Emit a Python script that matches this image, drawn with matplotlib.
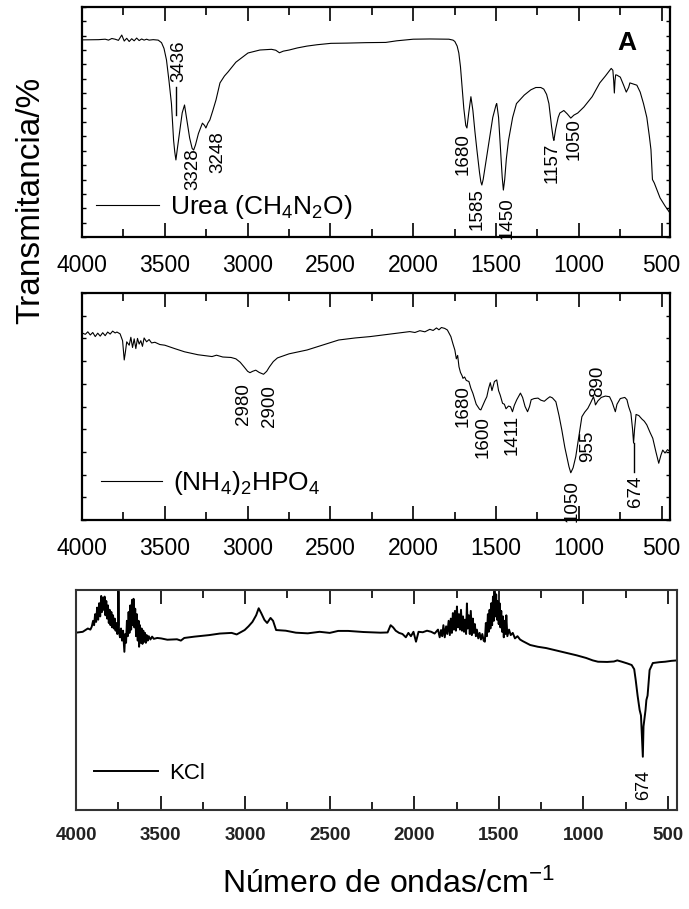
import matplotlib
matplotlib.use("Agg")
import matplotlib.pyplot as plt
from matplotlib import font_manager
from matplotlib.ticker import MultipleLocator

plt.rcParams['font.family'] = ['Liberation Sans', 'DejaVu Sans']
plt.rcParams['mathtext.default'] = 'regular'

# narrow face for the rotated peak labels if it is available
try:
    font_manager.findfont('Liberation Sans Narrow', fallback_to_default=False)
    peak_font, peak_size = 'Liberation Sans Narrow', 16
except ValueError:
    peak_font, peak_size = 'Liberation Sans', 13.5

# ---- Urea spectrum (wavenumber, transmittance a.u.) ----
urea_wn = [4000, 3900, 3860, 3840, 3820, 3800, 3780, 3760, 3745, 3730,
           3715, 3700, 3685, 3670, 3655, 3640, 3625, 3610, 3595, 3570,
           3540, 3520, 3505, 3490, 3475, 3460, 3447, 3440, 3433, 3425,
           3410, 3395, 3381, 3365, 3350, 3335, 3326, 3315, 3297, 3273,
           3260, 3252, 3240, 3228, 3210, 3191, 3167, 3140, 3119, 3071,
           2998, 2926, 2856, 2830, 2808, 2785, 2749, 2700, 2642, 2580,
           2497, 2400, 2286, 2166, 2100, 2000, 1900, 1785, 1760, 1749,
           1735, 1725, 1715, 1707, 1695, 1683, 1676, 1665, 1652, 1640,
           1628, 1616, 1600, 1592, 1586, 1578, 1565, 1544, 1520, 1500,
           1496, 1485, 1475, 1463, 1456, 1448, 1438, 1425, 1400, 1377,
           1330, 1290, 1260, 1230, 1212, 1195, 1181, 1165, 1155, 1151,
           1140, 1125, 1115, 1091, 1070, 1049, 1030, 1007, 970, 920,
           874, 840, 805, 795, 790, 786, 782, 778, 771, 750,
           730, 714, 700, 692, 670, 650, 630, 610, 590, 575,
           565, 556, 545, 510, 480, 450]
urea_T = [85.7, 85.8, 86.0, 85.6, 86.3, 86.0, 85.5, 87.8, 85.2, 86.4,
          85.0, 86.2, 85.3, 86.5, 85.4, 86.1, 85.6, 86.0, 85.6, 85.8,
          85.6, 84.5, 82.0, 77.0, 68.0, 58.0, 42.0, 37.0, 33.5, 38.0,
          46.0, 54.0, 57.4, 50.0, 43.0, 38.5, 37.8, 40.0, 45.0, 49.5,
          48.5, 47.4, 49.5, 50.9, 55.0, 59.6, 67.0, 70.0, 71.7, 76.0,
          80.0, 81.3, 81.6, 81.2, 80.1, 80.8, 81.3, 82.2, 83.0, 83.6,
          84.2, 84.3, 84.5, 84.6, 85.3, 86.0, 86.1, 86.0, 85.6, 85.0,
          83.0, 80.0, 74.0, 67.0, 56.0, 48.5, 47.4, 54.0, 61.0, 55.0,
          46.0, 38.0, 28.0, 24.0, 22.6, 25.0, 31.0, 41.0, 52.0, 57.5,
          58.0, 52.0, 40.0, 26.0, 20.4, 25.0, 34.0, 42.0, 52.0, 58.0,
          61.7, 64.0, 65.0, 65.0, 64.3, 62.0, 58.0, 48.0, 43.0, 42.0,
          47.0, 52.0, 53.9, 55.0, 53.5, 51.7, 53.0, 53.9, 56.5, 61.0,
          67.0, 70.0, 73.3, 72.5, 68.0, 62.6, 68.0, 70.5, 70.4, 69.5,
          66.0, 63.0, 65.0, 67.0, 66.5, 66.0, 63.0, 58.0, 52.0, 44.0,
          38.0, 25.0, 23.5, 17.0, 13.5, 10.4]

# ---- (NH4)2HPO4 spectrum ----
dap_wn = [4000, 3980, 3965, 3950, 3935, 3920, 3905, 3890, 3875, 3860,
          3845, 3830, 3815, 3800, 3789, 3770, 3755, 3745, 3738, 3730,
          3715, 3705, 3695, 3685, 3675, 3665, 3655, 3645, 3635, 3625,
          3610, 3595, 3580, 3560, 3530, 3500, 3440, 3381, 3300, 3215,
          3188, 3150, 3100, 3071, 3045, 3022, 3000, 2986, 2970, 2951,
          2930, 2904, 2885, 2868, 2845, 2820, 2750, 2641, 2550, 2450,
          2350, 2260, 2150, 2060, 2021, 1990, 1960, 1930, 1900, 1880,
          1860, 1845, 1830, 1810, 1794, 1773, 1760, 1749, 1740, 1732,
          1724, 1715, 1705, 1700, 1690, 1680, 1664, 1652, 1640, 1620,
          1600, 1592, 1580, 1566, 1556, 1545, 1535, 1525, 1510, 1496,
          1485, 1475, 1461, 1450, 1440, 1425, 1413, 1401, 1390, 1375,
          1353, 1340, 1325, 1310, 1298, 1288, 1270, 1247, 1230, 1209,
          1190, 1175, 1160, 1139, 1120, 1103, 1085, 1073, 1060, 1049,
          1035, 1019, 1000, 982, 965, 946, 930, 912, 905, 900,
          885, 865, 840, 815, 800, 788, 780, 770, 750, 723,
          710, 700, 686, 676, 670, 664, 655, 638, 620, 605,
          590, 570, 554, 535, 518, 505, 494, 480, 465, 446]
dap_T = [82.4, 81.8, 82.9, 81.5, 82.6, 80.8, 82.3, 81.0, 82.5, 81.2,
         82.8, 81.9, 83.2, 82.4, 82.8, 82.0, 79.0, 70.5, 74.0, 78.5,
         77.0, 80.5, 76.0, 79.8, 75.5, 80.0, 77.5, 79.0, 76.5, 80.2,
         78.5, 79.5, 78.0, 78.3, 77.3, 77.0, 75.5, 74.1, 72.8, 72.0,
         72.6, 71.8, 71.6, 71.0, 69.5, 67.5, 65.5, 64.9, 65.5, 66.0,
         65.0, 64.2, 65.5, 67.5, 69.8, 71.4, 73.2, 74.9, 77.0, 79.3,
         80.2, 80.8, 81.8, 82.6, 83.0, 82.6, 83.4, 82.9, 84.0, 83.5,
         84.6, 83.8, 84.8, 84.4, 83.7, 80.8, 77.5, 74.9, 71.0, 72.5,
         67.5, 65.0, 63.5, 62.4, 63.0, 61.5, 61.0, 58.0, 55.8, 51.0,
         48.8, 48.5, 50.5, 52.8, 54.3, 58.0, 60.5, 57.0, 61.0, 61.7,
         57.0, 55.0, 51.4, 51.0, 49.0, 50.2, 49.9, 47.7, 50.5, 53.0,
         55.9, 54.0, 50.0, 47.7, 50.0, 53.0, 53.5, 53.7, 52.8, 52.3,
         53.5, 54.3, 53.8, 52.1, 46.0, 39.6, 32.0, 27.9, 23.5, 20.8,
         23.0, 27.9, 37.0, 45.5, 47.5, 49.2, 51.5, 54.3, 52.5, 50.7,
         52.5, 54.0, 54.6, 54.3, 52.0, 49.5, 47.7, 51.0, 53.5, 54.0,
         53.0, 50.0, 47.0, 40.0, 33.9, 40.0, 46.5, 46.0, 44.5, 43.5,
         41.9, 38.5, 36.0, 30.0, 25.0, 28.5, 30.8, 29.5, 31.0, 30.0]

# ---- KCl spectrum ----
kcl_wn = [4000, 3960, 3930, 3915, 3907, 3899, 3893, 3887, 3881, 3875,
          3869, 3863, 3857, 3851, 3846, 3841, 3836, 3831, 3826, 3821,
          3816, 3811, 3806, 3801, 3796, 3791, 3786, 3781, 3776, 3771,
          3766, 3761, 3756, 3751, 3749, 3746, 3740, 3734, 3728, 3722,
          3717, 3714, 3709, 3704, 3699, 3694, 3689, 3684, 3679, 3674,
          3669, 3664, 3660, 3655, 3650, 3645, 3640, 3635, 3630, 3627,
          3622, 3617, 3612, 3607, 3602, 3597, 3592, 3587, 3582, 3576,
          3570, 3560, 3550, 3540, 3520, 3497, 3460, 3403, 3380, 3360,
          3300, 3213, 3150, 3080, 3050, 3003, 2980, 2957, 2935, 2920,
          2905, 2886, 2870, 2850, 2835, 2817, 2760, 2700, 2630, 2560,
          2500, 2450, 2391, 2300, 2200, 2158, 2140, 2125, 2110, 2090,
          2070, 2050, 2035, 2020, 2005, 1990, 1975, 1950, 1925, 1900,
          1880, 1860, 1850, 1842, 1835, 1828, 1820, 1812, 1805, 1797,
          1790, 1784, 1778, 1772, 1766, 1760, 1754, 1748, 1742, 1736,
          1730, 1724, 1718, 1712, 1706, 1700, 1694, 1689, 1684, 1678,
          1672, 1666, 1660, 1654, 1648, 1642, 1636, 1630, 1622, 1614,
          1606, 1598, 1590, 1583, 1577, 1571, 1565, 1560, 1555, 1550,
          1545, 1540, 1535, 1530, 1526, 1521, 1516, 1511, 1506, 1501,
          1496, 1491, 1486, 1481, 1476, 1471, 1466, 1461, 1456, 1450,
          1440, 1430, 1418, 1405, 1390, 1375, 1360, 1345, 1315, 1270,
          1220, 1160, 1102, 1040, 984, 945, 914, 860, 820, 800,
          773, 740, 715, 700, 691, 680, 668, 660, 652, 649,
          645, 633, 628, 621, 609, 590, 550, 517, 480, 447]
kcl_T = [80.6, 81.0, 82.5, 82.0, 83.3, 86.0, 84.0, 89.0, 85.5, 92.0,
         86.5, 94.0, 88.0, 97.3, 90.0, 96.5, 91.0, 97.0, 88.5, 95.0,
         87.0, 93.0, 85.0, 91.0, 84.0, 90.0, 83.0, 88.5, 82.5, 87.0,
         81.5, 85.0, 80.0, 84.0, 99.5, 81.0, 78.5, 82.5, 77.0, 81.5,
         75.0, 71.9, 80.0, 76.0, 86.0, 79.0, 90.0, 80.5, 93.0, 82.0,
         95.5, 84.0, 96.0, 83.0, 91.5, 79.0, 89.0, 77.0, 86.0, 74.2,
         84.0, 76.0, 82.5, 75.5, 81.5, 76.5, 80.5, 76.0, 79.5, 77.0,
         79.0, 77.5, 78.8, 77.8, 78.2, 78.0, 77.4, 77.6, 77.0, 78.2,
         78.8, 79.5, 80.2, 80.5, 79.8, 81.8, 83.5, 85.5, 88.5, 91.7,
         89.5, 86.4, 85.0, 87.3, 86.0, 81.8, 81.5, 80.6, 80.3, 81.0,
         80.5, 81.4, 81.4, 80.9, 80.6, 80.7, 84.0, 83.0, 81.5, 80.5,
         80.0, 78.5, 80.5, 79.0, 81.0, 76.5, 81.0, 80.8, 81.5, 81.0,
         80.2, 82.0, 78.5, 81.8, 79.0, 84.0, 78.5, 83.5, 80.0, 86.0,
         79.5, 87.0, 80.5, 89.5, 82.0, 90.5, 81.5, 92.5, 83.0, 89.0,
         82.0, 91.0, 81.5, 88.0, 81.0, 86.5, 80.0, 93.9, 82.5, 88.5,
         80.0, 90.5, 79.5, 87.0, 80.5, 84.5, 79.0, 82.0, 78.0, 80.5,
         77.5, 80.0, 77.0, 76.5, 85.0, 79.0, 89.0, 81.0, 91.0, 82.5,
         94.0, 84.0, 97.0, 86.0, 99.5, 88.0, 98.0, 86.5, 95.0, 84.5,
         94.0, 83.0, 90.5, 81.0, 88.0, 78.5, 86.0, 80.0, 88.5, 79.0,
         82.0, 79.5, 80.5, 78.0, 79.0, 77.5, 76.8, 76.2, 75.0, 74.2,
         73.6, 72.5, 71.4, 70.3, 69.1, 68.0, 67.4, 67.3, 67.5, 68.0,
         67.4, 66.6, 65.9, 64.0, 59.0, 52.0, 45.5, 43.0, 30.0, 24.2,
         38.0, 45.5, 50.0, 52.0, 63.6, 66.8, 67.2, 67.4, 67.8, 68.0]

# peak labels: (text, wavenumber position, bottom of text in T units)
urea_labels = [("3436", 3416, 67.4), ("3328", 3333, 20.4), ("3248", 3179, 27.8),
               ("1680", 1700, 27.0), ("1585", 1616, 3.0), ("1450", 1435, -1.0),
               ("1157", 1164, 23.5), ("1050", 1031, 33.5)]
dap_labels = [("2980", 3022, 41.9), ("2900", 2868, 41.0), ("1680", 1700, 41.0),
              ("1600", 1580, 27.3), ("1411", 1405, 28.6), ("955", 946, 25.6),
              ("890", 888, 54.0), ("1050", 1043, -1.0), ("674", 657, 5.7)]
kcl_labels = [("674", 647, 4.5)]

W, H = 689, 909
fig = plt.figure(figsize=(W / 100, H / 100), dpi=100)


def frac(l, t, r, b):
    return [l / W, (H - b) / H, (r - l) / W, (b - t) / H]


ax1 = fig.add_axes(frac(82, 7, 670, 237))
ax2 = fig.add_axes(frac(82, 293, 670, 520))
ax3 = fig.add_axes(frac(76, 590, 677, 810))

xt = [4000, 3500, 3000, 2500, 2000, 1500, 1000, 500]

for ax, ystep in [(ax1, 6.25), (ax2, 10)]:
    ax.set_xlim(4000, 450)
    ax.set_ylim(0, 100)
    ax.set_xticks(xt)
    ax.xaxis.set_minor_locator(MultipleLocator(250))
    ax.yaxis.set_major_locator(MultipleLocator(ystep))
    ax.tick_params(axis='x', which='major', direction='in', top=True, length=10,
                   width=1.2, labelsize=16.5, pad=12)
    ax.tick_params(axis='x', which='minor', direction='in', top=True, length=6, width=1.2)
    ax.tick_params(axis='y', which='major', direction='in', left=True, right=True,
                   length=3, width=1, labelleft=False)
    for s in ax.spines.values():
        s.set_linewidth(1.6)

ax1.plot(urea_wn, urea_T, color='black', lw=0.8, label='Urea (CH$_4$N$_2$O)')
ax2.plot(dap_wn, dap_T, color='black', lw=0.8, label='(NH$_4$)$_2$HPO$_4$')

for txt, x, y in urea_labels:
    ax1.text(x, y, txt, rotation=90, ha='center', va='bottom',
             fontsize=peak_size, family=peak_font)
for txt, x, y in dap_labels:
    ax2.text(x, y, txt, rotation=90, ha='center', va='bottom',
             fontsize=peak_size, family=peak_font)

# leader lines
ax1.plot([3433, 3433], [53, 65], color='black', lw=1)
ax2.plot([670, 670], [33.9, 21], color='black', lw=1)

ax1.text(711, 84.3, 'A', fontsize=19, fontweight='bold', ha='center', va='center')

ax1.legend(loc='center left', bbox_to_anchor=(0.024, 0.13), frameon=False,
           fontsize=19, handlelength=2.4, handletextpad=0.4, borderpad=0, borderaxespad=0)
ax2.legend(loc='center left', bbox_to_anchor=(0.033, 0.164), frameon=False,
           fontsize=19, handlelength=2.3, handletextpad=0.4, borderpad=0, borderaxespad=0)

# ---- KCl panel ----
ax3.plot(kcl_wn, kcl_T, color='black', lw=1.4, label='KCl')
ax3.set_xlim(4000, 447)
ax3.set_ylim(0, 100)
ax3.set_xticks(xt)
ax3.xaxis.set_minor_locator(MultipleLocator(250))
ax3.set_yticks([])
ax3.tick_params(axis='x', which='major', direction='in', top=True, length=10,
                width=1.4, labelsize=13.5, pad=12, colors='#222222')
ax3.tick_params(axis='x', which='minor', direction='in', top=True, length=6,
                width=1.4, colors='#222222')
for lab in ax3.get_xticklabels():
    lab.set_fontweight('bold')
for s in ax3.spines.values():
    s.set_linewidth(1.5)
    s.set_color('#333333')
for txt, x, y in kcl_labels:
    ax3.text(x, y, txt, rotation=90, ha='center', va='bottom', fontsize=13)
ax3.legend(loc='center left', bbox_to_anchor=(0.030, 0.168), frameon=False,
           fontsize=16, handlelength=2.9, handletextpad=0.5, borderpad=0, borderaxespad=0)
ax3.set_xlabel('Número de ondas/cm$^{-1}$', fontsize=23, labelpad=18)
ax3.xaxis.label.set_x(0.52)

fig.text(0.044, 0.78, 'Transmitancia/%', rotation=90, ha='center', va='center', fontsize=24)

fig.savefig('out.png', dpi=100)
